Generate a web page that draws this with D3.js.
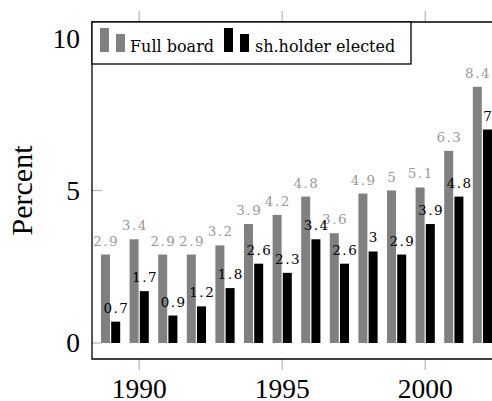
<!DOCTYPE html>
<html>
<head>
<meta charset="utf-8">
<script src="https://cdn.jsdelivr.net/npm/d3@7"></script>
<style>
  html, body { margin: 0; padding: 0; background: #fff; }
  svg { display: block; }
</style>
</head>
<body>
<svg id="chart" width="492" height="401"></svg>
<script>
// Share of board seats, by year
const years = [1989, 1990, 1991, 1992, 1993, 1994, 1995, 1996, 1997, 1998, 1999, 2000, 2001, 2002];
const fullBoard = [2.9, 3.4, 2.9, 2.9, 3.2, 3.9, 4.2, 4.8, 3.6, 4.9, 5, 5.1, 6.3, 8.4];
const holderElected = [0.7, 1.7, 0.9, 1.2, 1.8, 2.6, 2.3, 3.4, 2.6, 3, 2.9, 3.9, 4.8, 7];
const seriesNames = ["Full board", "sh.holder elected"];
const xTicks = [1990, 1995, 2000];
const yTicks = [0, 5, 10];
const yLabel = "Percent";

const svg = d3.select("#chart");
const plot = { left: 92, right: 501, top: 22, bottom: 359 };

const x = d3.scaleLinear().domain([1988.35, 2002.65]).range([plot.left, plot.right]);
const y = d3.scaleLinear().domain([-0.525, 10.525]).range([plot.bottom, plot.top]);

const barW = 9;
const serif = "'Liberation Serif', 'Times New Roman', serif";
const labelFont = "'DejaVu Serif', serif";

const series = [
  { name: seriesNames[0], values: fullBoard, fill: "#808080", text: "#9a9a9a", dx: -9.6 },
  { name: seriesNames[1], values: holderElected, fill: "#000000", text: "#000000", dx: 0.6 }
];

// bars and value labels, one series after the other
series.forEach(s => {
  const g = svg.append("g");
  const rows = years.map((yr, i) => ({ yr, v: s.values[i] }));
  g.selectAll("rect").data(rows).join("rect")
    .attr("x", d => x(d.yr) + s.dx)
    .attr("y", d => y(d.v))
    .attr("width", barW)
    .attr("height", d => y(0) - y(d.v))
    .attr("fill", s.fill);
  g.selectAll("text").data(rows).join("text")
    .attr("x", d => x(d.yr) + s.dx + barW / 2 + 0.75)
    .attr("y", d => y(d.v) - 9)
    .attr("text-anchor", "middle")
    .attr("font-family", labelFont)
    .attr("font-size", 13.5)
    .attr("letter-spacing", 1.5)
    .attr("fill", s.text)
    .text(d => d.v);
});

// ticks
const tickColor = "#b5b5b5";
svg.append("g").selectAll("line").data(yTicks).join("line")
  .attr("x1", plot.left).attr("x2", plot.left + 10)
  .attr("y1", d => y(d)).attr("y2", d => y(d))
  .attr("stroke", tickColor).attr("stroke-width", 1.2);
svg.append("g").selectAll("line").data(xTicks).join("line")
  .attr("x1", d => x(d)).attr("x2", d => x(d))
  .attr("y1", plot.bottom).attr("y2", plot.bottom + 11)
  .attr("stroke", tickColor).attr("stroke-width", 1.2);
svg.append("g").selectAll("line").data(xTicks).join("line")
  .attr("x1", d => x(d)).attr("x2", d => x(d))
  .attr("y1", plot.top).attr("y2", plot.top - 11)
  .attr("stroke", tickColor).attr("stroke-width", 1.2);

// tick labels
svg.append("g").selectAll("text").data(yTicks).join("text")
  .attr("x", 80).attr("y", d => y(d) + 9.5)
  .attr("text-anchor", "end")
  .attr("font-family", serif).attr("font-size", 27.5)
  .text(d => d);
svg.append("g").selectAll("text").data(xTicks).join("text")
  .attr("x", d => x(d)).attr("y", 398)
  .attr("text-anchor", "middle")
  .attr("font-family", serif).attr("font-size", 27.5)
  .text(d => d);

// axis title, centred on the plot height
svg.append("text")
  .attr("transform", `translate(32,${(plot.top + plot.bottom) / 2}) rotate(-90)`)
  .attr("text-anchor", "middle")
  .attr("font-family", serif).attr("font-size", 30)
  .text(yLabel);

// axis frame (right side runs past the page edge)
svg.append("path")
  .attr("d", `M${plot.right},${plot.top}H${plot.left}V${plot.bottom}H${plot.right}`)
  .attr("fill", "none").attr("stroke", "#000").attr("stroke-width", 1.3);

// legend
const legend = svg.append("g");
legend.append("rect")
  .attr("x", plot.left).attr("y", plot.top)
  .attr("width", 319).attr("height", 42)
  .attr("fill", "#fff").attr("stroke", "#000").attr("stroke-width", 1.3);
const legendItems = [
  { s: series[0], x0: 100, tx: 130 },
  { s: series[1], x0: 224, tx: 255 }
];
legendItems.forEach(it => {
  legend.append("rect").attr("x", it.x0).attr("y", 28).attr("width", 9).attr("height", 24).attr("fill", it.s.fill);
  legend.append("rect").attr("x", it.x0 + 16).attr("y", 34).attr("width", 9).attr("height", 18).attr("fill", it.s.fill);
  legend.append("text")
    .attr("x", it.tx).attr("y", 51.5)
    .attr("font-family", labelFont).attr("font-size", 16)
    .text(it.s.name);
});
</script>
</body>
</html>
